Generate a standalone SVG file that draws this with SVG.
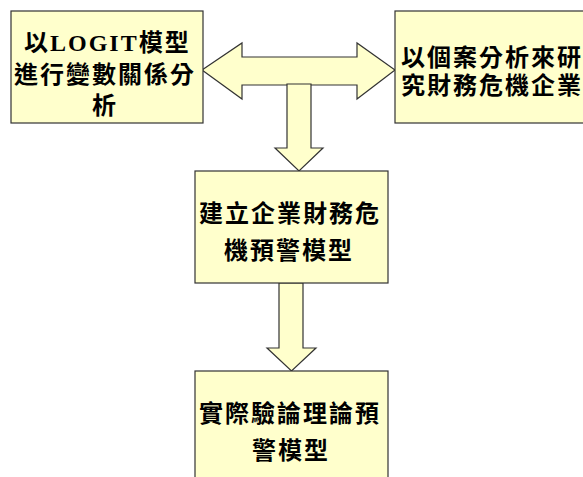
<svg xmlns="http://www.w3.org/2000/svg" width="583" height="477" viewBox="0 0 583 477">
<style>
.box{fill:#FFFFCC;stroke:#333;stroke-width:1.2}
.arr{fill:#FFFFCC;stroke:#333;stroke-width:1.2;stroke-linejoin:miter}
.t{font-family:"Liberation Serif","Noto Sans CJK TC",serif;font-weight:bold;font-size:24px;letter-spacing:2px;fill:#000}
</style>
<rect width="583" height="477" fill="#fff"/>
<g id="connectors">
<polygon class="arr" points="202,70 242,43 242,57 357,57 357,43 395,70 357,99 357,85 242,85 242,99"/>
<polygon class="arr" points="287,84 311,84 311,148 323,148 299,171 275,148 287,148"/>
<polygon class="arr" points="279,283 303,283 303,348 316,348 291.5,371 267,348 279,348"/>
</g>
<g id="node1">
<rect class="box" x="11" y="11" width="192" height="112"/>
<text class="t" x="24" y="51">以<tspan>LOGIT</tspan>模型</text>
<text class="t" x="14" y="83">進行變數關係分</text>
<text class="t" x="92" y="114">析</text>
</g>
<g id="node2">
<rect class="box" x="395" y="11" width="200" height="112"/>
<text class="t" x="401" y="66">以個案分析來研</text>
<text class="t" x="401" y="94">究財務危機企業</text>
</g>
<g id="node3">
<rect class="box" x="195" y="171" width="193" height="112"/>
<text class="t" x="199" y="222">建立企業財務危</text>
<text class="t" x="224" y="259">機預警模型</text>
</g>
<g id="node4">
<rect class="box" x="195" y="371" width="193" height="120"/>
<text class="t" x="199" y="422">實際驗論理論預</text>
<text class="t" x="252" y="459">警模型</text>
</g>
</svg>
